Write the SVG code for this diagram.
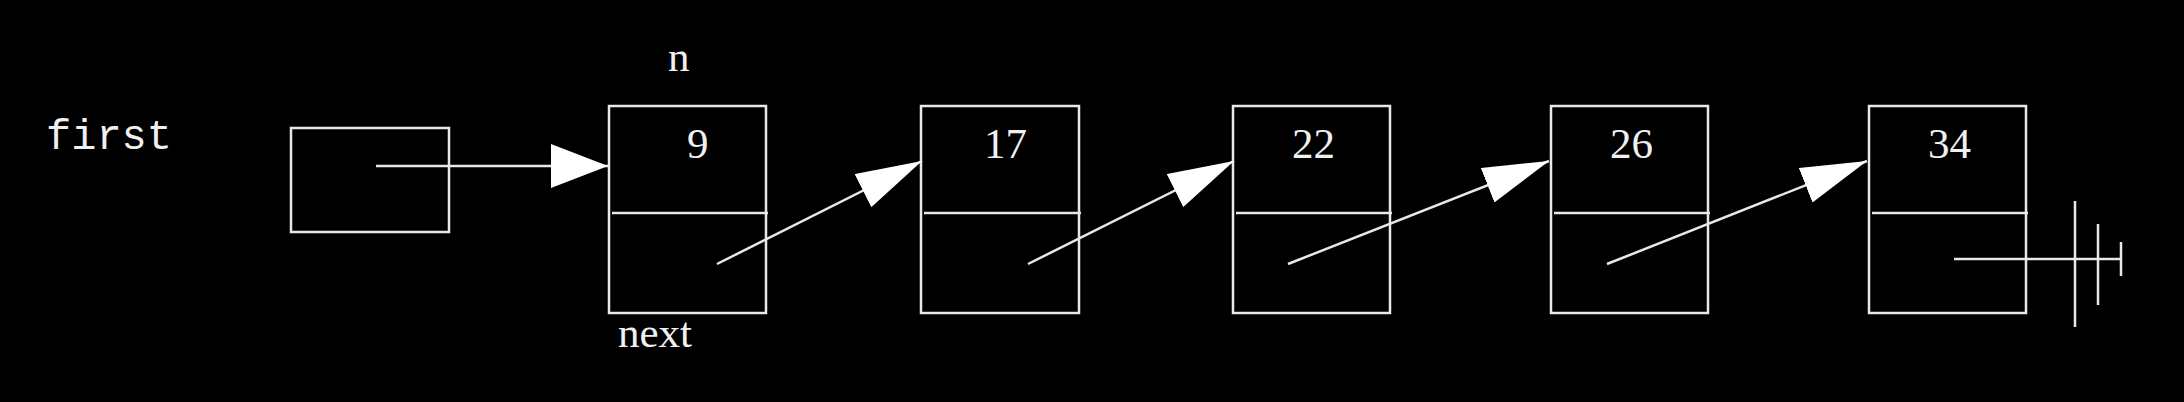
<svg xmlns="http://www.w3.org/2000/svg" width="2184" height="402" viewBox="0 0 2184 402">
<style>
.box{fill:none;stroke:#e8e8e8;stroke-width:2.5}
.ln{fill:none;stroke:#e8e8e8;stroke-width:2.5}
.serif{font-family:"Liberation Serif","Times New Roman",serif;font-size:43px;fill:#f0f0f0}
.mono{font-family:"Liberation Mono","Courier New",monospace;font-size:42px;fill:#f0f0f0}
</style>
<defs>
<marker id="headH" markerUnits="userSpaceOnUse" viewBox="0 0 57 44" markerWidth="57" markerHeight="44" refX="57" refY="22" orient="auto">
<path d="M0,0 L57,22 L0,44 z" fill="#ffffff"/>
</marker>
<marker id="headD" markerUnits="userSpaceOnUse" viewBox="0 0 66 37" markerWidth="66" markerHeight="37" refX="66" refY="18.5" orient="auto">
<path d="M0,0 L66,18.5 L0,37 z" fill="#ffffff"/>
</marker>
</defs>
<rect width="2184" height="402" fill="#000"/>
<g id="label-first"><text class="mono" x="46" y="149">first</text></g>
<g id="first-box"><rect class="box" x="291" y="128" width="158" height="104"/></g>
<g id="node1">
<rect class="box" x="609" y="106" width="157" height="207"/>
<line class="ln" x1="612" y1="213" x2="768" y2="213"/>
<text class="serif" x="687" y="158">9</text>
<text class="serif" x="668" y="71">n</text>
<text class="serif" x="618" y="347">next</text>
</g>
<g id="node2">
<rect class="box" x="921" y="106" width="158" height="207"/>
<line class="ln" x1="924" y1="213" x2="1081" y2="213"/>
<text class="serif" x="984" y="158">17</text>
</g>
<g id="node3">
<rect class="box" x="1233" y="106" width="157" height="207"/>
<line class="ln" x1="1236" y1="213" x2="1392" y2="213"/>
<text class="serif" x="1292" y="158">22</text>
</g>
<g id="node4">
<rect class="box" x="1551" y="106" width="157" height="207"/>
<line class="ln" x1="1554" y1="213" x2="1710" y2="213"/>
<text class="serif" x="1610" y="158">26</text>
</g>
<g id="node5">
<rect class="box" x="1869" y="106" width="157" height="207"/>
<line class="ln" x1="1872" y1="213" x2="2028" y2="213"/>
<text class="serif" x="1928" y="158">34</text>
</g>
<g id="connectors">
<line class="ln" x1="376" y1="166" x2="608" y2="166" marker-end="url(#headH)"/>
<line class="ln" x1="717" y1="264" x2="922" y2="161" marker-end="url(#headD)"/>
<line class="ln" x1="1028" y1="264" x2="1234" y2="161" marker-end="url(#headD)"/>
<line class="ln" x1="1288" y1="264" x2="1549" y2="161" marker-end="url(#headD)"/>
<line class="ln" x1="1607" y1="264" x2="1867" y2="161" marker-end="url(#headD)"/>
<g id="null-ground">
<line class="ln" x1="1954" y1="259" x2="2121" y2="259"/>
<line class="ln" x1="2075" y1="201" x2="2075" y2="327"/>
<line class="ln" x1="2098" y1="224" x2="2098" y2="305"/>
<line class="ln" x1="2121" y1="242" x2="2121" y2="276"/>
</g>
</g>
</svg>
